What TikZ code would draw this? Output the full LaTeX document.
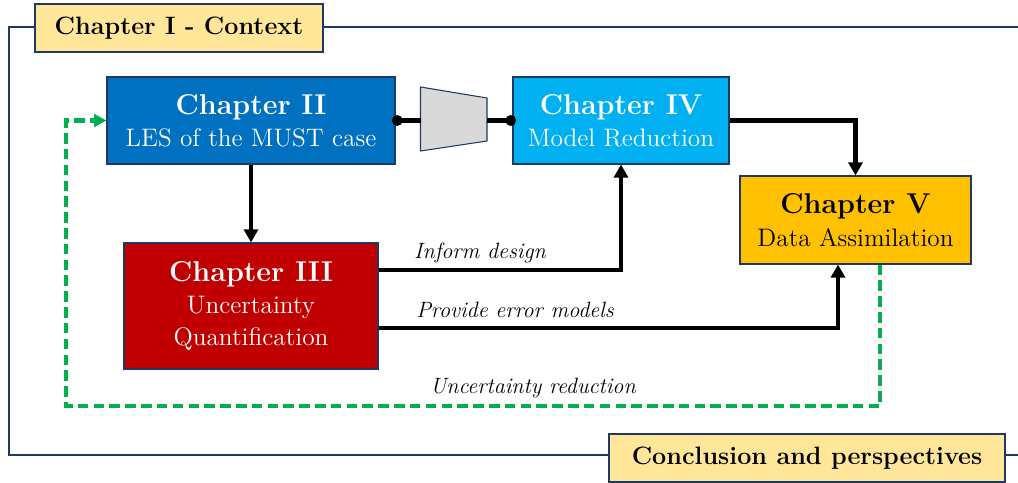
\documentclass[tikz,border=0pt]{standalone}
\usetikzlibrary{arrows.meta}

\definecolor{navy}{HTML}{1F3864}
\definecolor{chaptwo}{HTML}{0070C0}
\definecolor{chapthree}{HTML}{C00000}
\definecolor{chapfour}{HTML}{00B0F0}
\definecolor{chapfive}{HTML}{FFC000}
\definecolor{titlefill}{HTML}{FFE699}
\definecolor{projgray}{HTML}{D9D9D9}
\definecolor{fbgreen}{HTML}{00B050}

\newcommand{\chaptitle}[1]{{\fontsize{16.3}{19.5}\selectfont\bfseries #1}}

\tikzset{
  chapbox/.style={draw=navy, line width=0.6pt, align=center, inner sep=2pt,
    font=\fontsize{14.4}{18.4}\selectfont},
  titlebox/.style={draw=navy, fill=titlefill, line width=0.8pt, minimum height=0.96cm,
    font=\fontsize{14.3}{17}\selectfont\bfseries},
  link/.style={line width=2.3pt},
  flow/.style={link, -{Triangle[length=7.5pt,width=8pt]}},
  feedback/.style={draw=fbgreen, line width=2.3pt, dash pattern=on 6pt off 3pt,
    -{Triangle[length=7pt,width=7pt]}},
  note/.style={font=\fontsize{12.6}{15}\selectfont\itshape}
}

\begin{document}
\begin{tikzpicture}
  \useasboundingbox (0, 0) rectangle (20.36, 9.64);

  % Frame
  \draw[navy, line width=1.1pt]
    (20.36, 9.10) -- (0.18, 9.10) -- (0.18, 0.54) -- (20.36, 0.54);
  % Chapter I
  \node[titlebox, minimum width=5.76cm] (context) at (3.58, 9.08) {Chapter I - Context};
  % Conclusion
  \node[titlebox, minimum width=7.92cm] (concl) at (16.14, 0.48) {Conclusion and perspectives};

  % Chapter II
  \node[chapbox, fill=chaptwo, text=white, minimum width=5.76cm, minimum height=1.74cm]
    (ch2) at (5.02, 7.23) {\chaptitle{Chapter II}\\LES of the MUST case};
  % Chapter IV
  \node[chapbox, fill=chapfour, text=white, minimum width=4.32cm, minimum height=1.74cm]
    (ch4) at (12.42, 7.23) {\chaptitle{Chapter IV}\\Model Reduction};
  % Chapter III
  \node[chapbox, fill=chapthree, text=white, minimum width=5.08cm, minimum height=2.52cm]
    (ch3) at (5.02, 3.52) {\chaptitle{Chapter III}\\Uncertainty\\Quantification};
  % Chapter V
  \node[chapbox, fill=chapfive, text=black, minimum width=4.62cm, minimum height=1.76cm]
    (ch5) at (17.11, 5.24) {\chaptitle{Chapter V}\\Data Assimilation};

  % Projection
  \draw[navy, fill=projgray, line width=0.6pt]
    (8.41, 7.90) -- (9.74, 7.68) -- (9.74, 6.82) -- (8.41, 6.62) -- cycle;
  \coordinate (projin) at (8.41, 7.23);
  \coordinate (projout) at (9.74, 7.23);
  \draw[link, {Circle[length=6pt]}-, shorten <=-2pt] (ch2.east) -- (projin);
  \draw[link, -{Circle[length=6pt]}, shorten >=-2pt] (projout) -- (ch4.west);

  % Links
  \draw[flow] (ch2.south) -- (ch3.north);
  \draw[flow] (ch4.east) -| (ch5.north);
  \draw[flow] ([yshift=0.72cm]ch3.east) -| (ch4.south);
  \draw[flow] ([yshift=-0.44cm]ch3.east) -| ([xshift=-0.35cm]ch5.south);
  \node[note] (inform) at (9.60, 4.58) {Inform design};
  \node[note] (errmod) at (10.30, 3.44) {Provide error models};

  % Feedback
  \coordinate (fbcorner) at (1.32, 1.52);
  \draw[feedback] ([xshift=0.49cm]ch5.south) |- (fbcorner) |- (ch2.west);
  \node[note] (reduce) at (10.66, 1.88) {Uncertainty reduction};
\end{tikzpicture}
\end{document}
